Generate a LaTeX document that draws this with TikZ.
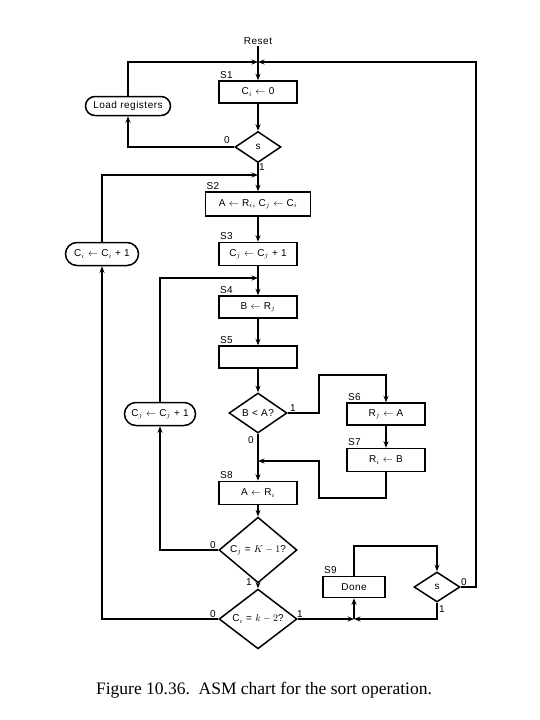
\documentclass[tikz,border=0pt]{standalone}
\usepackage{fontspec}
\setmainfont{Liberation Serif}
\newfontfamily\chartfont[LetterSpace=5]{Liberation Sans}
\usetikzlibrary{shapes.geometric,shapes.misc,arrows.meta}

\begin{document}
\begin{tikzpicture}[>={Stealth[length=6.5pt,width=5pt]}, x=1pt, y=-1pt, line width=1.5pt]
\tikzstyle{every node}=[font=\chartfont\fontsize{10}{12}\selectfont, inner sep=1pt];
\tikzstyle{box}=[draw, rectangle, minimum width=78pt, minimum height=22pt];
\tikzstyle{cond}=[draw, diamond, inner sep=0pt];
\tikzstyle{oval}=[draw, rounded rectangle, inner sep=2pt];
\tikzstyle{lbl}=[anchor=south west];
\useasboundingbox (0,0) rectangle (540,720);
% states
    \node (reset) at (258,41) {Reset};
    \node[box] (S1) at (258,92) {C$_i$ $\leftarrow$ 0};
    \node[lbl] (S1l) at (S1.north west) {S1};
    \node[oval, minimum width=89pt, minimum height=19pt] (load) at (128,106) {Load registers};
    \node[cond, minimum width=46pt, minimum height=31pt] (s0) at (258,147) {s};
    \node[box, minimum width=105pt, minimum height=24pt] (S2) at (258,204) {A $\leftarrow$ R$_i$, C$_j$ $\leftarrow$ C$_i$};
    \node[lbl] (S2l) at (S2.north west) {S2};
    \node[box, minimum height=23pt] (S3) at (258,254) {C$_j$ $\leftarrow$ C$_j$ + 1};
    \node[lbl] (S3l) at (S3.north west) {S3};
    \node[oval, minimum width=77pt, minimum height=23pt] (inci) at (102,254) {C$_i$ $\leftarrow$ C$_i$ + 1};
    \node[box] (S4) at (258,307) {B $\leftarrow$ R$_j$};
    \node[lbl] (S4l) at (S4.north west) {S4};
    \node[box] (S5) at (258,357) {};
    \node[lbl] (S5l) at (S5.north west) {S5};
    \node[cond, minimum width=58pt, minimum height=40pt] (less) at (258,413) {B < A?};
    \node[box] (S6) at (386,414) {R$_j$ $\leftarrow$ A};
    \node[lbl] (S6l) at (S6.north west) {S6};
    \node[box, minimum height=23pt] (S7) at (386,460) {R$_i$ $\leftarrow$ B};
    \node[lbl] (S7l) at (S7.north west) {S7};
    \node[oval, minimum width=75pt, minimum height=23pt] (incj) at (160,414) {C$_j$ $\leftarrow$ C$_j$ + 1};
    \node[box, minimum height=23pt] (S8) at (258,493) {A $\leftarrow$ R$_i$};
    \node[lbl] (S8l) at (S8.north west) {S8};
    \node[cond, minimum width=78pt, minimum height=50pt] (kone) at (258,550) {C$_j$ = $K-1$?};
    \node[cond, minimum width=78pt, minimum height=50pt] (ktwo) at (258,619) {C$_i$ = $k-2$?};
    \node[box, minimum width=62pt, minimum height=21pt] (done) at (354,587) {Done};
    \node[lbl] (S9l) at (done.north west) {S9};
    \node[cond, minimum width=46pt, minimum height=30pt] (s1) at (437,587) {s};
% branch values
    \node (s0a) at (227,140) {0};
    \node (s0b) at (262,167) {1};
    \node (lessa) at (293,408) {1};
    \node (lessb) at (251,440) {0};
    \node (konea) at (213,545) {0};
    \node (koneb) at (249,582) {1};
    \node (ktwoa) at (213,614) {0};
    \node (ktwob) at (300,614) {1};
    \node (s1a) at (464,582) {0};
    \node (s1b) at (442,609) {1};
% caption
    \node[font=\rmfamily\fontsize{17.5}{20}\selectfont] (cap) at (264,690) {Figure 10.36.\ \ ASM chart for the sort operation.};
% corners
    \coordinate (m1) at (258,62);
    \coordinate (r1) at (476,62);
    \coordinate (m2) at (258,175);
    \coordinate (m3) at (258,278);
    \coordinate (c1) at (319,375);
    \coordinate (c3) at (319,498);
    \coordinate (m4) at (258,461);
    \coordinate (m5) at (354,619);
    \coordinate (c4) at (354,546);
% edges
    \draw[->] (reset) -- (S1);
    \draw[->] (load.north) |- (m1);
    \draw[->] (s1.east) -| (r1) -- (m1);
    \draw[->] (S1) -- (s0);
    \draw[->] (s0.west) -| (load.south);
    \draw[->] (s0) -- (S2);
    \draw[->] (inci.north) |- (m2);
    \draw[->] (S2) -- (S3);
    \draw[->] (S3) -- (S4);
    \draw[->] (incj.north) |- (m3);
    \draw[->] (S4) -- (S5);
    \draw[->] (S5) -- (less);
    \draw[->] (less.east) -| (c1) -| (S6.north);
    \draw[->] (S6) -- (S7);
    \draw[->] (S7.south) |- (c3) |- (m4);
    \draw[->] (less) -- (S8);
    \draw[->] (S8) -- (kone);
    \draw[->] (kone.west) -| (incj.south);
    \draw[->] (kone) -- (ktwo);
    \draw[->] (ktwo.west) -| (inci.south);
    \draw[->] (ktwo.east) -- (m5);
    \draw[->] (m5) -- (done);
    \draw[->] (done.north) -- (c4) -| (s1.north);
    \draw[->] (s1.south) |- (m5);
\end{tikzpicture}
\end{document}
